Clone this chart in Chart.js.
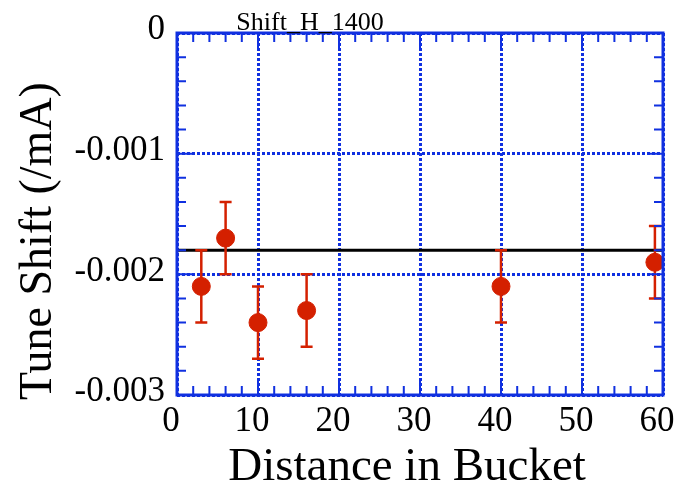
<!DOCTYPE html>
<html>
<head>
<meta charset="utf-8">
<script src="https://cdn.jsdelivr.net/npm/chart.js@4"></script>
<style>
  html, body { margin: 0; padding: 0; background: #fff; }
  #wrap { width: 677px; height: 484px; }
</style>
</head>
<body>
<div id="wrap"><canvas id="chart" width="677" height="484"></canvas></div>
<script>
// 데이터
const distance = [3, 6, 10, 16, 40, 59];
const tuneShift = [-0.0021, -0.0017, -0.0024, -0.0023, -0.0021, -0.0019];
const shiftError = [0.0003, 0.0003, 0.0003, 0.0003, 0.0003, 0.0003];
const refShift = -0.0018;
const xRange = [0, 60];
const yRange = [-0.003, 0];

const chartTitle = 'Shift_H_1400';
const xTitle = 'Distance in Bucket';
const yTitle = 'Tune Shift (/mA)';

const BLUE = '#1030e0';
const RED = '#d42000';
const SERIF = '"Liberation Serif", "DejaVu Serif", serif';

// 에러바 (포인트 아래에 그림)
const errorBars = {
    id: 'errorBars',
    beforeDatasetDraw(chart, args) {
        if (args.index !== 0) return;
        const { ctx, scales: { x, y } } = chart;
        ctx.save();
        ctx.strokeStyle = RED;
        ctx.lineWidth = 2.5;
        distance.forEach((d, i) => {
            const px = x.getPixelForValue(d);
            const top = y.getPixelForValue(tuneShift[i] + shiftError[i]);
            const bot = y.getPixelForValue(tuneShift[i] - shiftError[i]);
            ctx.beginPath();
            ctx.moveTo(px, top); ctx.lineTo(px, bot);
            ctx.moveTo(px - 6, top); ctx.lineTo(px + 6, top);
            ctx.moveTo(px - 6, bot); ctx.lineTo(px + 6, bot);
            ctx.stroke();
        });
        ctx.restore();
    }
};

// 테두리, 안쪽 눈금, 제목들
const frame = {
    id: 'frame',
    afterDatasetsDraw(chart) {
        const { ctx, chartArea: a, scales: { x, y } } = chart;
        ctx.save();
        ctx.strokeStyle = BLUE;
        ctx.lineWidth = 2;
        ctx.beginPath();
        for (let i = 0; i <= 30; i++) {
            const px = x.getPixelForValue(i * 2);
            const len = i % 5 === 0 ? 16 : 9;
            ctx.moveTo(px, a.bottom); ctx.lineTo(px, a.bottom - len);
            ctx.moveTo(px, a.top); ctx.lineTo(px, a.top + len);
        }
        for (let i = 0; i <= 15; i++) {
            const py = y.getPixelForValue(-i * 0.0002);
            const len = i % 5 === 0 ? 16 : 9;
            ctx.moveTo(a.left, py); ctx.lineTo(a.left + len, py);
            ctx.moveTo(a.right, py); ctx.lineTo(a.right - len, py);
        }
        ctx.stroke();
        ctx.lineWidth = 3;
        ctx.strokeRect(a.left, a.top, a.right - a.left, a.bottom - a.top);

        ctx.fillStyle = '#000';
        ctx.textAlign = 'center';
        ctx.textBaseline = 'alphabetic';

        // 그래프 제목
        ctx.font = '26px ' + SERIF;
        ctx.fillText(chartTitle, 310, 30);

        // x축 제목
        ctx.font = '47px ' + SERIF;
        ctx.fillText(xTitle, 407, 480);

        // y축 제목
        ctx.font = '46px ' + SERIF;
        ctx.translate(51, 241);
        ctx.rotate(-Math.PI / 2);
        ctx.fillText(yTitle, 0, 0);
        ctx.restore();
    }
};

new Chart(document.getElementById('chart'), {
    type: 'scatter',
    data: {
        datasets: [{
            data: distance.map((d, i) => ({ x: d, y: tuneShift[i] })),
            backgroundColor: RED,
            borderColor: RED,
            pointRadius: 9,
            pointHoverRadius: 9,
            order: 0
        }, {
            data: [{ x: xRange[0], y: refShift }, { x: xRange[1], y: refShift }],
            showLine: true,
            borderColor: '#000',
            borderWidth: 3,
            pointRadius: 0,
            order: 1
        }]
    },
    options: {
        responsive: false,
        animation: false,
        layout: { padding: { top: 33, right: 14, left: 0, bottom: 0 } },
        plugins: { legend: { display: false }, tooltip: { enabled: false }, title: { display: false } },
        scales: {
            x: {
                min: xRange[0], max: xRange[1],
                afterFit: s => { s.height = 89; s.paddingLeft = 0; s.paddingRight = 0; },
                ticks: { stepSize: 10, color: '#000', padding: 6, labelOffset: -6, font: { family: SERIF, size: 35 } },
                grid: { color: BLUE, lineWidth: 3, drawTicks: false },
                border: { display: false, dash: [3, 2] }
            },
            y: {
                min: yRange[0], max: yRange[1],
                afterFit: s => { s.width = 177; s.paddingTop = 0; s.paddingBottom = 0; },
                ticks: {
                    stepSize: 0.001, color: '#000', padding: 12, labelOffset: -3, font: { family: SERIF, size: 35 },
                    callback: v => (Math.abs(v) < 1e-9 ? '0' : v.toFixed(3))
                },
                grid: { color: BLUE, lineWidth: 3, drawTicks: false },
                border: { display: false, dash: [3, 2] }
            }
        }
    },
    plugins: [errorBars, frame]
});
</script>
</body>
</html>
